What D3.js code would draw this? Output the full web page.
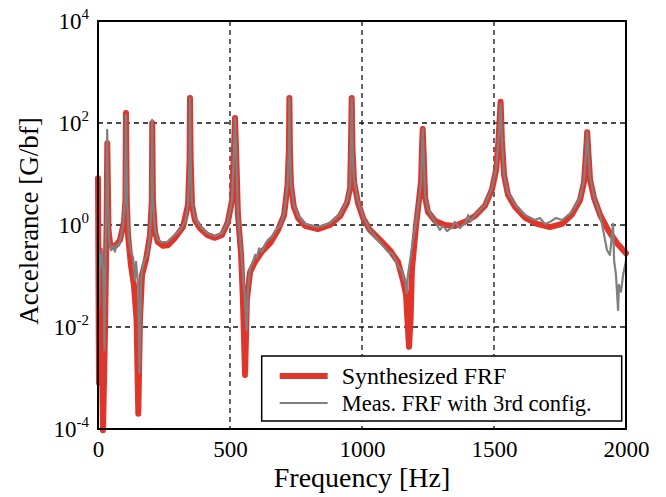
<!DOCTYPE html>
<html>
<head>
<meta charset="utf-8">
<script src="https://cdn.jsdelivr.net/npm/d3@7"></script>
<style>
  body { margin: 0; background: #fff; }
  svg text { font-family: "Liberation Serif", "Times New Roman", serif; }
</style>
</head>
<body>
<div id="chart"></div>
<script>
// Synthesized FRF (Hz, G/bf)
var synthFreq = [0, 3.8, 7.6, 11.4, 19, 26.5, 32.2, 35.2, 39.8, 45.5, 56.8, 68.2, 83.3, 98.5, 104, 106, 109, 113.6, 125, 136, 146, 152.7, 159, 166.7, 182, 197, 204, 205.5, 208, 216, 227, 246, 265, 292, 322, 341, 347, 348.5, 351, 356, 367, 386, 413, 443, 470, 492, 508, 515, 519, 523, 530, 542, 549, 557, 564, 576, 595, 621, 652, 682, 705, 718, 723, 725, 727, 731, 742, 758, 784, 833, 879, 917, 943, 955, 958, 961, 964, 970, 985, 1004, 1030, 1068, 1106, 1136, 1155, 1167, 1172, 1178, 1184, 1189, 1205, 1216, 1224, 1227, 1230, 1233, 1239, 1250, 1277, 1314, 1352, 1390, 1428, 1466, 1492, 1508, 1517, 1525, 1530, 1538, 1553, 1580, 1617, 1663, 1712, 1758, 1795, 1826, 1841, 1848, 1853, 1858, 1864, 1879, 1902, 1932, 1966, 2000];
var synthVals = [8.3, 8e-4, 0.32, 0.034, 9.5e-5, 0.0087, 0.8, 40, 0.8, 0.44, 0.37, 0.4, 0.51, 1.15, 3.1, 157, 3.1, 0.64, 0.16, 0.067, 0.014, 2.0e-4, 0.014, 0.105, 0.21, 0.64, 3.1, 100, 3.1, 0.73, 0.46, 0.39, 0.4, 0.56, 0.91, 2.5, 19, 310, 19, 2.5, 1.25, 0.87, 0.64, 0.56, 0.64, 1.15, 3.1, 30, 125, 30, 1.6, 0.26, 0.034, 0.00115, 0.034, 0.12, 0.19, 0.3, 0.44, 0.8, 1.57, 6.1, 30, 310, 30, 6.1, 2.25, 1.37, 0.96, 0.83, 1.0, 1.5, 2.7, 5.3, 30, 310, 30, 6.9, 2.7, 1.37, 0.8, 0.51, 0.32, 0.19, 0.083, 0.042, 0.014, 0.0041, 0.014, 0.13, 1, 3.1, 7.6, 30, 76, 30, 3.5, 1.8, 1.2, 1.0, 0.96, 1.15, 1.5, 2.4, 4.9, 12, 46, 260, 46, 9.6, 3.9, 2.25, 1.4, 1.05, 0.91, 1.05, 1.6, 3.1, 6.9, 24, 66, 24, 7.6, 3.4, 1.57, 0.8, 0.44, 0.28];

// Measured FRF with 3rd config (Hz, G/bf)
var measFreq = [0, 3.8, 7.6, 11.4, 15, 21, 24.6, 28, 32, 34.8, 38, 42, 49, 57, 64, 72, 80, 87, 95, 102, 106, 110, 117, 125, 133, 140, 144, 152, 157, 163, 167, 174, 186, 197, 203, 205, 208, 216, 227, 242, 261, 284, 311, 330, 341, 347, 348.5, 351, 356, 367, 386, 413, 443, 470, 492, 508, 515, 519, 523, 530, 542, 549, 557, 563, 568, 576, 587, 595, 602, 610, 621, 633, 644, 659, 674, 689, 705, 718, 723, 725, 727, 731, 742, 758, 784, 833, 879, 917, 943, 955, 958, 961, 964, 970, 985, 1004, 1030, 1068, 1098, 1117, 1136, 1152, 1159, 1163, 1169, 1174, 1182, 1193, 1205, 1216, 1224, 1227, 1230, 1233, 1239, 1250, 1277, 1295, 1307, 1322, 1341, 1352, 1371, 1394, 1402, 1409, 1432, 1466, 1492, 1508, 1517, 1525, 1530, 1538, 1553, 1580, 1617, 1655, 1674, 1693, 1712, 1735, 1758, 1795, 1826, 1841, 1848, 1853, 1858, 1864, 1879, 1902, 1917, 1928, 1939, 1947, 1951, 1955, 1962, 1970, 1973, 1981, 1989, 2000];
var measVals = [1.25, 0.025, 0.26, 0.16, 0.32, 0.083, 0.0035, 0.2, 3.1, 73, 3.1, 0.51, 0.32, 0.39, 0.3, 0.42, 0.4, 0.6, 1, 3.1, 144, 3.1, 0.51, 0.3, 0.23, 0.083, 0.19, 0.067, 0.00126, 0.083, 0.13, 0.19, 0.26, 0.6, 3.1, 115, 3.1, 0.8, 0.51, 0.46, 0.46, 0.6, 0.8, 1.15, 2.5, 19, 310, 19, 2.5, 1.37, 0.96, 0.7, 0.6, 0.7, 1.15, 3.1, 30, 125, 30, 1.6, 0.32, 0.105, 0.034, 0.0087, 0.053, 0.14, 0.19, 0.26, 0.23, 0.35, 0.3, 0.42, 0.51, 0.6, 0.8, 0.96, 1.65, 6.1, 30, 310, 30, 6.1, 2.5, 1.5, 1.05, 0.91, 1.1, 1.6, 2.95, 5.8, 30, 310, 30, 7.6, 2.95, 1.45, 0.8, 0.46, 0.3, 0.27, 0.16, 0.12, 0.083, 0.09, 0.046, 0.105, 0.2, 0.51, 1.15, 3.1, 7.6, 30, 76, 30, 3.9, 2, 1.15, 0.8, 0.96, 0.76, 0.91, 1.15, 0.87, 1.15, 1.57, 1.15, 1.65, 2.5, 5.3, 13, 46, 235, 46, 9.6, 4.2, 2.5, 1.57, 1.25, 1.37, 1.05, 1.15, 1.37, 1.25, 1.8, 3.4, 7.6, 24, 66, 24, 8.3, 3.7, 1.57, 0.64, 0.32, 0.26, 0.64, 1.05, 0.2, 0.105, 0.0215, 0.067, 0.049, 0.105, 0.2];

var xTicks = [0, 500, 1000, 1500, 2000];
var yTickExp = [-4, -2, 0, 2, 4];
var legendLabels = ["Synthesized FRF", "Meas. FRF with 3rd config."];

var synth = synthFreq.map(function(f, i){ return { f: f, v: synthVals[i] }; });
var meas = measFreq.map(function(f, i){ return { f: f, v: measVals[i] }; });

var margin = { left: 98, right: 40, top: 21, bottom: 68 };
var width = 666 - margin.left - margin.right;
var height = 497 - margin.top - margin.bottom;

var svg = d3.select("#chart").append("svg")
    .attr("width", 666)
    .attr("height", 497);

var g = svg.append("g")
    .attr("transform", "translate(" + margin.left + "," + margin.top + ")");

var x = d3.scaleLinear().domain([0, 2000]).range([0, width]);
var y = d3.scaleLog().domain([1e-4, 1e4]).range([height, 0]);

// dashed grid
g.append("g").selectAll("line")
    .data([500, 1000, 1500])
    .enter().append("line")
    .attr("x1", function(d){ return x(d); })
    .attr("x2", function(d){ return x(d); })
    .attr("y1", 0).attr("y2", height)
    .attr("stroke", "#111").attr("stroke-width", 1.3)
    .attr("stroke-dasharray", "5,4");
g.append("g").selectAll("line")
    .data([1e-2, 1, 1e2])
    .enter().append("line")
    .attr("x1", 0).attr("x2", width)
    .attr("y1", function(d){ return y(d); })
    .attr("y2", function(d){ return y(d); })
    .attr("stroke", "#111").attr("stroke-width", 1.3)
    .attr("stroke-dasharray", "5,4");

var line = d3.line()
    .x(function(d){ return x(d.f); })
    .y(function(d){ return y(d.v); });

g.append("path")
    .attr("d", line(synth))
    .attr("fill", "none")
    .attr("stroke", "#e0352a")
    .attr("stroke-width", 6)
    .attr("stroke-linejoin", "round")
    .attr("stroke-linecap", "round");

g.append("path")
    .attr("d", line(meas))
    .attr("fill", "none")
    .attr("stroke", "#808080")
    .attr("stroke-width", 2.2)
    .attr("stroke-linejoin", "round");

// frame
g.append("rect")
    .attr("width", width).attr("height", height)
    .attr("fill", "none").attr("stroke", "#000").attr("stroke-width", 2);

// x ticks
var xAxisCall = d3.axisBottom(x).tickValues(xTicks).tickSize(0).tickPadding(12)
    .tickFormat(d3.format("d"));
var xAxis = g.append("g")
    .attr("transform", "translate(0," + height + ")")
    .call(xAxisCall);
xAxis.select(".domain").remove();
xAxis.selectAll("text")
    .attr("font-family", "Liberation Serif")
    .attr("font-size", "23px")
    .attr("fill", "#000");

// y ticks with superscript
var yLab = g.append("g").selectAll("text")
    .data(yTickExp)
    .enter().append("text")
    .attr("x", -9)
    .attr("y", function(d){ return y(Math.pow(10, d)) + 8; })
    .attr("text-anchor", "end")
    .attr("font-size", "23px");
yLab.append("tspan").text("10");
yLab.append("tspan")
    .attr("dy", -10)
    .attr("font-size", "15px")
    .text(function(d){ return d; });

// axis titles
g.append("text")
    .attr("x", width / 2)
    .attr("y", height + 58)
    .attr("text-anchor", "middle")
    .attr("font-size", "28px")
    .text("Frequency [Hz]");
g.append("text")
    .attr("transform", "rotate(-90)")
    .attr("x", -height / 2 + 4)
    .attr("y", -60)
    .attr("text-anchor", "middle")
    .attr("font-size", "27px")
    .text("Accelerance [G/bf]");

// legend
var lg = g.append("g").attr("transform", "translate(" + x(620) + ",335)");
lg.append("rect")
    .attr("width", 360).attr("height", 65)
    .attr("fill", "#fff").attr("stroke", "#000").attr("stroke-width", 1.5);
lg.append("line")
    .attr("x1", 18).attr("x2", 66).attr("y1", 20).attr("y2", 20)
    .attr("stroke", "#e0352a").attr("stroke-width", 6);
lg.append("line")
    .attr("x1", 18).attr("x2", 66).attr("y1", 47).attr("y2", 47)
    .attr("stroke", "#808080").attr("stroke-width", 2.2);
lg.append("text").attr("x", 80).attr("y", 28)
    .attr("font-size", "24px").text(legendLabels[0]);
lg.append("text").attr("x", 80).attr("y", 55)
    .attr("font-size", "22.5px").text(legendLabels[1]);
</script>
</body>
</html>
